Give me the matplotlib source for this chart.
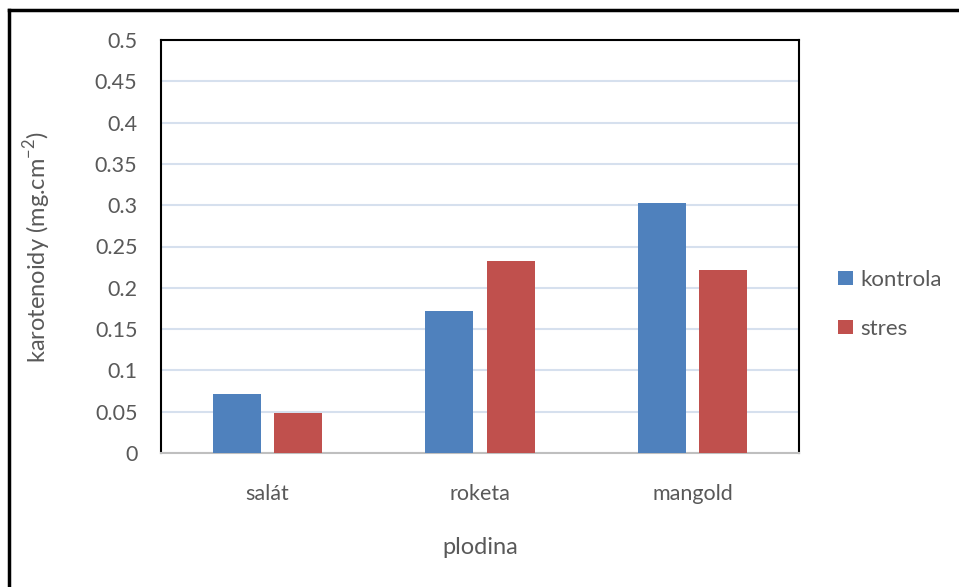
import matplotlib.pyplot as plt
import numpy as np
from matplotlib.lines import Line2D

categories = ['salát', 'roketa', 'mangold']
kontrola = [0.072, 0.172, 0.303]
stres = [0.048, 0.232, 0.222]
series_names = ['kontrola', 'stres']
yticks = [0, 0.05, 0.1, 0.15, 0.2, 0.25, 0.3, 0.35, 0.4, 0.45, 0.5]
ytick_labels = ['0', '0.05', '0.1', '0.15', '0.2', '0.25', '0.3', '0.35', '0.4', '0.45', '0.5']

plt.rcParams['font.family'] = ['Lato', 'DejaVu Sans']
plt.rcParams['mathtext.fontset'] = 'custom'
plt.rcParams['mathtext.rm'] = 'Lato'
txt = '#595959'

fig = plt.figure(figsize=(9.59, 5.87), dpi=100)
ax = fig.add_axes([161 / 959, 1 - 453 / 587, 638 / 959, 413 / 587])

x = np.arange(len(categories))
w = 0.226
ax.bar(x - 0.144, kontrola, w, color='#4F81BD', label=series_names[0], zorder=3)
ax.bar(x + 0.144, stres, w, color='#C0504D', label=series_names[1], zorder=3)

ax.set_xlim(-0.5, 2.5)
ax.set_ylim(0, 0.5)
ax.set_yticks(yticks)
ax.set_yticklabels(ytick_labels)
ax.set_xticks(x)
ax.set_xticklabels(categories)
ax.tick_params(axis='both', length=0, labelsize=15.5, colors=txt)
ax.tick_params(axis='y', pad=17)
ax.tick_params(axis='x', pad=22)
ax.grid(axis='y', color='#D6E0EE', linewidth=1.5, zorder=0)

for s in ['left', 'top', 'right']:
    ax.spines[s].set_color('black')
    ax.spines[s].set_linewidth(1.5)
ax.spines['bottom'].set_color('#BFBFBF')
ax.spines['bottom'].set_linewidth(1.5)

ax.set_xlabel('plodina', fontsize=17, color=txt, labelpad=24)
ax.set_ylabel('karotenoidy (mg.cm$^{\\mathregular{-2}}$)', fontsize=17, color=txt, labelpad=30)

leg = ax.legend(loc='center left', bbox_to_anchor=(1.030, 0.36), frameon=False,
                fontsize=16, labelcolor=txt, handlelength=0.65, handleheight=0.65,
                handletextpad=0.35, labelspacing=1.3)

# outer chart border (left and top visible)
fig.add_artist(Line2D([9 / 959, 9 / 959], [0, 1 - 10 / 587], color='black', lw=2.5))
fig.add_artist(Line2D([9 / 959, 1], [1 - 10 / 587, 1 - 10 / 587], color='black', lw=2.5))

fig.savefig('out.png', dpi=100)
